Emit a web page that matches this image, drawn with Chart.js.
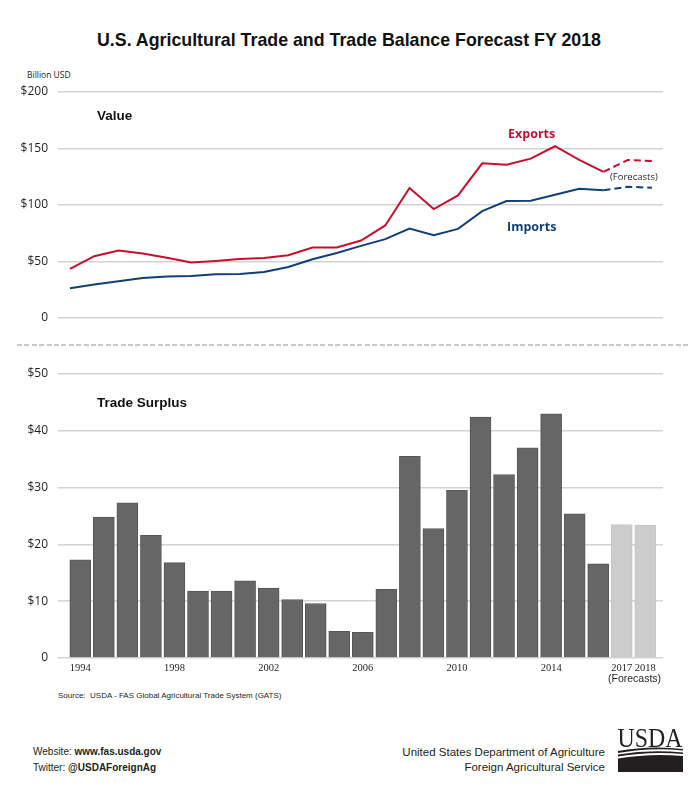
<!DOCTYPE html>
<html>
<head>
<meta charset="utf-8">
<script src="https://cdn.jsdelivr.net/npm/chart.js@4.4.0/dist/chart.umd.min.js"></script>
<style>
  body { margin: 0; background: #fff; }
  #page { position: relative; width: 700px; height: 795px; overflow: hidden; background: #fff; font-family: 'Liberation Sans', Arial, sans-serif; color: #231f20; }
  canvas { position: absolute; left: 0; }
  .txt { position: absolute; line-height: 1; white-space: nowrap; transform: translateY(-50%); }
  .narrow { font-family: 'Liberation Sans Narrow', 'Liberation Sans', sans-serif; }
  .myriad { font-family: 'Open Sans', sans-serif; }
</style>
</head>
<body>
<div id="page">
  <div class="txt" style="left:0;width:698px;text-align:center;top:41px;font-size:17.8px;font-weight:bold;color:#111;">U.S. Agricultural Trade and Trade Balance Forecast FY 2018</div>
  <div class="txt myriad" style="left:27px;top:75px;font-size:8.5px;">Billion USD</div>

  <canvas id="topChart" width="700" height="266" style="top:72px;"></canvas>
  <div class="txt" style="left:97px;top:116px;font-size:13.5px;font-weight:bold;color:#111;">Value</div>
  <div class="txt myriad" style="left:508px;top:134px;font-size:12.5px;font-weight:bold;color:#c8102e;">Exports</div>
  <div class="txt myriad" style="left:507px;top:227px;font-size:12.5px;font-weight:bold;color:#123f78;">Imports</div>
  <div class="txt myriad" style="left:610px;top:177px;font-size:9.5px;">(Forecasts)</div>

  <div style="position:absolute;left:17px;top:344px;width:673px;height:2px;background:repeating-linear-gradient(90deg,#c9c9c9 0 5px,transparent 5px 7.4px);"></div>

  <canvas id="bottomChart" width="700" height="324" style="top:354px;"></canvas>
  <div class="txt" style="left:97px;top:403px;font-size:13.5px;font-weight:bold;color:#111;">Trade Surplus</div>
  <div class="txt narrow" style="left:608px;width:50px;text-align:center;top:678px;font-size:10.5px;">(Forecasts)</div>

  <div class="txt" style="left:58px;top:696px;font-size:8px;">Source:&nbsp; USDA - FAS Global Agricultural Trade System (GATS)</div>

  <div class="txt" style="left:33px;top:752px;font-size:10px;">Website: <b>www.fas.usda.gov</b></div>
  <div class="txt" style="left:33px;top:768px;font-size:10px;">Twitter: <b>@USDAForeignAg</b></div>
  <div class="txt" style="right:95px;top:753px;font-size:11.5px;text-align:right;">United States Department of Agriculture</div>
  <div class="txt" style="right:95px;top:768px;font-size:11.5px;text-align:right;">Foreign Agricultural Service</div>

  <svg style="position:absolute;left:614px;top:720px;" width="74" height="56" viewBox="0 0 74 56">
    <text x="3.5" y="26.5" textLength="65" lengthAdjust="spacingAndGlyphs" font-family="Liberation Serif, serif" font-size="28" fill="#231f20">USDA</text>
    <path d="M4 31 Q36 25 69 29 L69 30.5 Q36 27 4 33 Z" fill="#231f20"/>
    <path d="M4 34.5 Q36 29 69 32.5 L69 34 Q36 31 4 36.5 Z" fill="#231f20"/>
    <path d="M4 38.5 Q36 33 69 36 L69 52 L4 52 Z" fill="#231f20"/>
  </svg>
</div>

<script>
// years on the x axis
const years = [1994, 1995, 1996, 1997, 1998, 1999, 2000, 2001, 2002, 2003, 2004, 2005,
  2006, 2007, 2008, 2009, 2010, 2011, 2012, 2013, 2014, 2015, 2016, 2017, 2018];

// billion USD (2017 and 2018 are forecasts)
const exportsValue = [43.4, 54.7, 59.7, 57.1, 53.4, 49.1, 50.5, 52.3, 53.1, 55.6, 62.4, 62.4,
  68.6, 81.9, 115.0, 96.4, 108.5, 136.9, 135.6, 141.0, 152.0, 140.0, 129.4, 139.8, 138.9];
const importsValue = [26.3, 29.6, 32.5, 35.5, 36.7, 37.2, 38.7, 38.9, 40.8, 45.2, 52.0, 57.6,
  63.8, 69.8, 79.2, 73.3, 78.9, 94.6, 103.5, 103.8, 109.0, 114.4, 113.0, 116.1, 115.3];
const surplusValue = [17.3, 24.8, 27.3, 21.6, 16.8, 11.8, 11.8, 13.6, 12.3, 10.3, 9.6, 4.7,
  4.5, 12.1, 35.5, 22.8, 29.5, 42.4, 32.3, 37.0, 43.0, 25.4, 16.6, 23.5, 23.4];

const forecastYears = [2017, 2018];
const valueTicks = [0, 50, 100, 150, 200];
const surplusTicks = [0, 10, 20, 30, 40, 50];
const yearLabels = [1994, 1998, 2002, 2006, 2010, 2014, 2017, 2018];

const gridColor = '#d3d3d3';
const tickFont = { family: 'Open Sans', size: 12 };

function dollar(v) {
    return v === 0 ? '0' : '$' + v;
}

function yAxis(max, step) {
    return {
        min: 0,
        max: max,
        afterFit: function(scale) { scale.width = 50; },
        border: { display: false },
        grid: { color: gridColor, lineWidth: 1.6, drawTicks: false },
        ticks: { stepSize: step, padding: 10, color: '#231f20', font: tickFont, callback: dollar }
    };
}

// Exportaciones e importaciones
new Chart(document.getElementById('topChart'), {
    type: 'line',
    data: {
        datasets: [{
            label: 'Exports',
            data: years.map((y, i) => ({ x: y, y: exportsValue[i] })),
            borderColor: '#c8102e',
            borderWidth: 2,
            pointRadius: 0,
            segment: { borderDash: ctx => ctx.p0.parsed.x >= 2016 ? [7, 4] : undefined }
        }, {
            label: 'Imports',
            data: years.map((y, i) => ({ x: y, y: importsValue[i] })),
            borderColor: '#123f78',
            borderWidth: 2,
            pointRadius: 0,
            segment: { borderDash: ctx => ctx.p0.parsed.x >= 2016 ? [7, 4] : undefined }
        }]
    },
    options: {
        responsive: false,
        animation: false,
        layout: { padding: { left: 8, right: 37, top: 20, bottom: 20 } },
        plugins: { legend: { display: false }, tooltip: { enabled: false } },
        scales: {
            x: { type: 'linear', min: 1993.505, max: 2018.454, display: false },
            y: yAxis(valueTicks[valueTicks.length - 1], valueTicks[1] - valueTicks[0])
        }
    }
});

// Superávit comercial
new Chart(document.getElementById('bottomChart'), {
    type: 'bar',
    data: {
        datasets: [{
            label: 'Trade Surplus',
            data: years.map((y, i) => ({ x: y, y: surplusValue[i] })),
            backgroundColor: years.map(y => forecastYears.includes(y) ? '#cccccc' : '#666666'),
            borderColor: years.map(y => forecastYears.includes(y) ? '#c4c4c4' : '#575757'),
            borderWidth: 1,
            barThickness: 21
        }]
    },
    options: {
        responsive: false,
        animation: false,
        layout: { padding: { left: 8, right: 37, top: 20, bottom: 0 } },
        plugins: { legend: { display: false }, tooltip: { enabled: false } },
        scales: {
            x: {
                type: 'linear',
                offset: false,
                min: 1993.053,
                max: 2018.752,
                afterFit: function(scale) { scale.height = 20; },
                afterBuildTicks: function(scale) {
                    scale.ticks = yearLabels.map(v => ({ value: v }));
                },
                border: { display: false },
                grid: { display: false, drawTicks: false },
                ticks: {
                    autoSkip: false,
                    maxRotation: 0,
                    padding: 4,
                    color: '#231f20',
                    font: { family: 'Liberation Sans Narrow', size: 10.5 },
                    callback: v => String(v)
                }
            },
            y: yAxis(surplusTicks[surplusTicks.length - 1], surplusTicks[1] - surplusTicks[0])
        }
    }
});
</script>
</body>
</html>
